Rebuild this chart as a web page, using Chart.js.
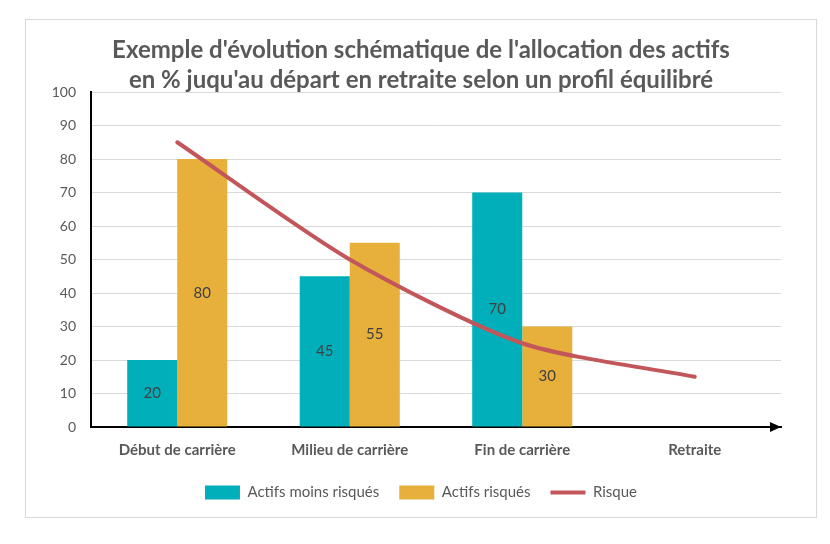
<!DOCTYPE html>
<html lang="fr">
<head>
<meta charset="utf-8">
<title>Allocation des actifs</title>
<script src="https://cdn.jsdelivr.net/npm/chart.js@4.4.1/dist/chart.umd.min.js"></script>
<style>
    html, body { margin: 0; padding: 0; background: #ffffff; }
    #cadre {
        position: absolute;
        left: 25px;
        top: 19px;
        width: 792px;
        height: 499px;
        box-sizing: border-box;
        border: 1px solid #d9d9d9;
        background: #ffffff;
    }
    #zone { position: relative; width: 790px; height: 497px; }
</style>
</head>
<body>
<div id="cadre">
    <div id="zone"><canvas id="graphique"></canvas></div>
</div>
<script>
// Données
const categories = ['Début de carrière', 'Milieu de carrière', 'Fin de carrière', 'Retraite'];
const actifsMoinsRisques = [20, 45, 70, null];
const actifsRisques = [80, 55, 30, null];
const risque = [85, 50, 25, 15];
const ticksY = [0, 10, 20, 30, 40, 50, 60, 70, 80, 90, 100];

const titre = [
    "Exemple d'évolution schématique de l'allocation des actifs",
    "en % juqu'au départ en retraite selon un profil équilibré"
];

const police = 'Lato, "Open Sans", sans-serif';

document.addEventListener('DOMContentLoaded', function () {
    const canvas = document.getElementById('graphique');
    const ctx = canvas.getContext('2d');

    if (typeof Chart === 'undefined') {
        console.error('Chart.js non chargé');
        return;
    }

    // Étiquettes de valeur au milieu des barres
    const etiquettes = {
        id: 'etiquettes',
        afterDatasetsDraw(chart) {
            const c = chart.ctx;
            c.save();
            c.font = '15px ' + police;
            c.fillStyle = '#404040';
            c.textAlign = 'center';
            c.textBaseline = 'middle';
            chart.data.datasets.forEach((ds, i) => {
                if (ds.type !== 'bar') return;
                const meta = chart.getDatasetMeta(i);
                meta.data.forEach((barre, j) => {
                    const v = ds.data[j];
                    if (v === null || v === undefined) return;
                    c.fillText(String(v), barre.x, (barre.y + barre.base) / 2);
                });
            });
            c.restore();
        }
    };

    // Flèche au bout de l'axe horizontal
    const fleche = {
        id: 'fleche',
        afterDraw(chart) {
            const a = chart.chartArea;
            const c = chart.ctx;
            c.save();
            c.fillStyle = '#000000';
            c.beginPath();
            c.moveTo(a.right, a.bottom);
            c.lineTo(a.right - 11, a.bottom - 5);
            c.lineTo(a.right - 11, a.bottom + 5);
            c.closePath();
            c.fill();
            c.restore();
        }
    };

    new Chart(ctx, {
        data: {
            labels: categories,
            datasets: [
                {
                    type: 'bar',
                    label: 'Actifs moins risqués',
                    data: actifsMoinsRisques,
                    backgroundColor: '#00AFBA',
                    borderWidth: 0,
                    pointStyle: 'rect',
                    order: 1
                },
                {
                    type: 'bar',
                    label: 'Actifs risqués',
                    data: actifsRisques,
                    backgroundColor: '#E6B03B',
                    borderWidth: 0,
                    pointStyle: 'rect',
                    order: 1
                },
                {
                    type: 'line',
                    label: 'Risque',
                    data: risque,
                    borderColor: '#C2565A',
                    backgroundColor: '#C2565A',
                    borderWidth: 4,
                    borderCapStyle: 'round',
                    borderJoinStyle: 'round',
                    pointRadius: 0,
                    pointStyle: 'line',
                    tension: 0.25,
                    order: 0
                }
            ]
        },
        options: {
            responsive: true,
            maintainAspectRatio: false,
            animation: false,
            layout: { padding: { top: 0, right: 0, bottom: 7, left: 0 } },
            datasets: {
                bar: { barPercentage: 1, categoryPercentage: 0.58 }
            },
            plugins: {
                tooltip: { enabled: false },
                title: {
                    display: true,
                    text: titre,
                    color: '#595959',
                    font: { family: police, size: 24, weight: 'bold', lineHeight: 1.25 },
                    padding: { top: 15, bottom: -3 }
                },
                legend: {
                    position: 'bottom',
                    labels: {
                        usePointStyle: true,
                        pointStyleWidth: 35,
                        boxHeight: 14,
                        padding: 20,
                        color: '#595959',
                        font: { family: police, size: 15 },
                        sort: (a, b) => a.datasetIndex - b.datasetIndex
                    }
                }
            },
            scales: {
                x: {
                    grid: { display: false, drawTicks: false },
                    border: { display: true, color: '#000000', width: 2 },
                    ticks: {
                        color: '#595959',
                        padding: 14,
                        font: { family: police, size: 15, weight: 'bold' }
                    },
                    afterFit(scale) { scale.height = 38; }
                },
                y: {
                    min: 0,
                    max: 100,
                    grid: {
                        color: (c) => (c.tick && c.tick.value === 0 ? 'rgba(0,0,0,0)' : '#d9d9d9'),
                        lineWidth: 1,
                        drawTicks: false
                    },
                    border: { display: true, color: '#000000', width: 2 },
                    afterBuildTicks(scale) {
                        scale.ticks = ticksY.map(v => ({ value: v }));
                    },
                    ticks: {
                        color: '#595959',
                        padding: 15,
                        font: { family: police, size: 14 }
                    },
                    afterFit(scale) { scale.width = 65; }
                },
                // marge vide à droite de la zone de tracé
                marge: {
                    type: 'linear',
                    axis: 'y',
                    position: 'right',
                    grid: { display: false, drawTicks: false },
                    border: { display: false },
                    ticks: { display: false },
                    afterFit(scale) { scale.width = 35; }
                }
            }
        },
        plugins: [etiquettes, fleche]
    });
});
</script>
</body>
</html>
